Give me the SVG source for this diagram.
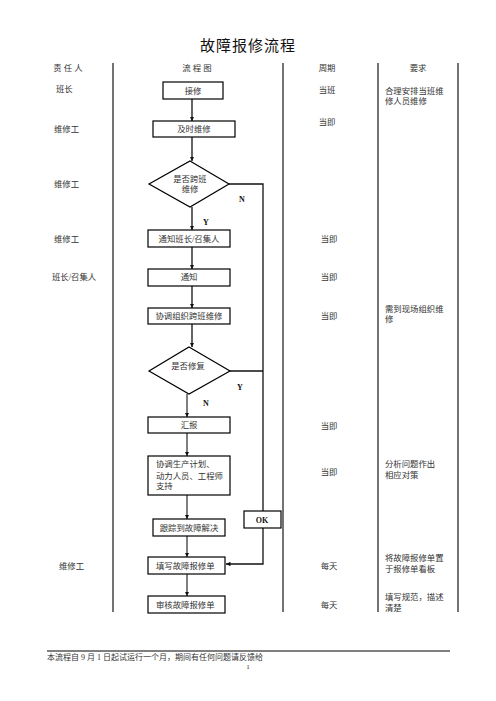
<svg xmlns="http://www.w3.org/2000/svg" width="496" height="701" viewBox="0 0 496 701">
<style>
text{font-family:"Liberation Serif","Noto Sans CJK SC",serif;font-size:8.4px;fill:#333;dominant-baseline:central}
.c{text-anchor:middle}
.t{font-size:15px;fill:#111;letter-spacing:1px}
.b{font-family:"Liberation Serif",serif;font-weight:bold;font-size:8px;fill:#111}
.box{fill:#fff;stroke:#000;stroke-width:1.2}
.col{stroke:#000;stroke-width:1.1}
.ln{fill:none;stroke:#111;stroke-width:1.3}
.lg{fill:none;stroke:#555;stroke-width:1.5}
</style>
<defs>
<marker id="ah" viewBox="0 0 10 10" refX="10" refY="5" markerWidth="4.5" markerHeight="4.5" orient="auto" markerUnits="userSpaceOnUse"><path d="M0,0 L10,5 L0,10 z" fill="#111"/></marker>
</defs>
<rect width="496" height="701" fill="#fff"/>
<text class="t c" x="248" y="46">故障报修流程</text>
<g id="table">
<line class="col" x1="113" y1="63" x2="113" y2="612"/>
<line class="col" x1="283" y1="63" x2="283" y2="612"/>
<line class="col" x1="378" y1="63" x2="378" y2="612"/>
<line class="col" x1="458" y1="63" x2="458" y2="612"/>
<text class="c" x="68" y="68">责 任 人</text>
<text class="c" x="197" y="68">流 程 图</text>
<text class="c" x="327" y="68">周期</text>
<text class="c" x="418" y="68">要求</text>
<text x="56" y="89">班长</text>
<text x="54" y="129">维修工</text>
<text x="54" y="184">维修工</text>
<text x="54" y="239">维修工</text>
<text x="52" y="277">班长/召集人</text>
<text x="59" y="566">维修工</text>
<text class="c" x="327" y="90">当班</text>
<text class="c" x="327" y="122">当即</text>
<text class="c" x="329" y="239">当即</text>
<text class="c" x="329" y="277">当即</text>
<text class="c" x="329" y="316">当即</text>
<text class="c" x="329" y="426">当即</text>
<text class="c" x="329" y="472">当即</text>
<text class="c" x="329" y="566">每天</text>
<text class="c" x="329" y="605">每天</text>
<text x="385" y="91">合理安排当班维</text>
<text x="385" y="101">修人员维修</text>
<text x="385" y="309">需到现场组织维</text>
<text x="385" y="319">修</text>
<text x="385" y="464">分析问题作出</text>
<text x="385" y="475">相应对策</text>
<text x="385" y="558">将故障报修单置</text>
<text x="385" y="569">于报修单看板</text>
<text x="385" y="597">填写规范，描述</text>
<text x="385" y="608">清楚</text>
</g>
<g id="connectors">
<line class="ln" x1="192" y1="99" x2="192" y2="121" marker-end="url(#ah)"/>
<line class="ln" x1="192" y1="137" x2="192" y2="161" marker-end="url(#ah)"/>
<line class="ln" x1="192" y1="207" x2="192" y2="230" marker-end="url(#ah)"/>
<line class="ln" x1="192" y1="247" x2="192" y2="269" marker-end="url(#ah)"/>
<line class="ln" x1="192" y1="286" x2="192" y2="308" marker-end="url(#ah)"/>
<line class="ln" x1="192" y1="324" x2="192" y2="347" marker-end="url(#ah)"/>
<line class="lg" x1="187" y1="394" x2="187" y2="417" marker-end="url(#ah)"/>
<line class="lg" x1="187" y1="433" x2="187" y2="456" marker-end="url(#ah)"/>
<line class="lg" x1="187" y1="495" x2="187" y2="519" marker-end="url(#ah)"/>
<line class="lg" x1="187" y1="536" x2="187" y2="557" marker-end="url(#ah)"/>
<line class="lg" x1="187" y1="574" x2="187" y2="596" marker-end="url(#ah)"/>
<polyline class="ln" points="229,184 263,184 263,564 226,564" marker-end="url(#ah)"/>
<line class="ln" x1="230" y1="371" x2="263" y2="371"/>
<text class="b" x="239" y="199">N</text>
<text class="b" x="203" y="222">Y</text>
<text class="b" x="237" y="387">Y</text>
<text class="b" x="203" y="403">N</text>
</g>
<g id="n1"><rect class="box" x="163" y="82" width="60" height="17"/><text class="c" x="193" y="91">接修</text></g>
<g id="n2"><rect class="box" x="153" y="121" width="82" height="16"/><text class="c" x="194" y="129">及时维修</text></g>
<g id="n3"><polygon class="box" points="190,161 229,184 190,207 149,184"/><text class="c" x="190" y="179">是否跨班</text><text class="c" x="190" y="189">维修</text></g>
<g id="n4"><rect class="box" x="148" y="230" width="82" height="17"/><text class="c" x="189" y="239">通知班长/召集人</text></g>
<g id="n5"><rect class="box" x="148" y="269" width="82" height="17"/><text class="c" x="189" y="277">通知</text></g>
<g id="n6"><rect class="box" x="148" y="308" width="82" height="16"/><text class="c" x="189" y="316">协调组织跨班维修</text></g>
<g id="n7"><polygon class="box" points="189,347 230,371 189,394 149,371"/><text class="c" x="188" y="366">是否修复</text></g>
<g id="n8"><rect class="box" x="148" y="417" width="82" height="16"/><text class="c" x="189" y="425">汇报</text></g>
<g id="n9"><rect class="box" x="148" y="456" width="82" height="39"/><text x="156" y="464">协调生产计划、</text><text x="156" y="476">动力人员、工程师</text><text x="156" y="486">支持</text></g>
<g id="n10"><rect class="box" x="153" y="519" width="72" height="17"/><text class="c" x="189" y="528">跟踪到故障解决</text></g>
<g id="n11"><rect class="box" x="244" y="511" width="37" height="17"/><text class="b c" x="262" y="520">OK</text></g>
<g id="n12"><rect class="box" x="148" y="557" width="77" height="17"/><text x="156" y="566">填写故障报修单</text></g>
<g id="n13"><rect class="box" x="148" y="596" width="77" height="17"/><text x="156" y="605">审核故障报修单</text></g>
<g id="footer">
<line x1="47" y1="651" x2="450" y2="651" stroke="#000" stroke-width="1"/>
<text x="47" y="657" style="font-size:8px">本流程自 9 月 1 日起试运行一个月，期间有任何问题请反馈给</text>
<text class="c" x="248" y="667" style="font-size:7px">1</text>
</g>
</svg>
